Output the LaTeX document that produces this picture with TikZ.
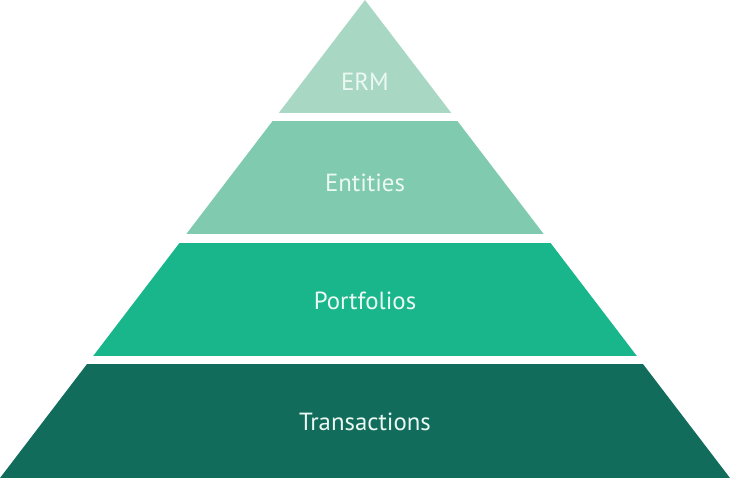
\documentclass[tikz,border=0pt]{standalone}
\usepackage{fontspec}
\setmainfont{PT Sans}
\usepackage{tikz}
\usetikzlibrary{calc}
\definecolor{ermgreen}{RGB}{168,216,196}
\definecolor{entgreen}{RGB}{128,203,176}
\definecolor{portgreen}{RGB}{25,182,140}
\definecolor{transgreen}{RGB}{17,108,92}
\definecolor{labeltext}{RGB}{236,248,243}
\tikzstyle{layer label} = [text=labeltext, font=\fontsize{18.6}{20}\selectfont,
    anchor=center, inner sep=0pt]

\begin{document}
\begin{tikzpicture}[x=0.75pt,y=-0.75pt]
  \useasboundingbox (0,0) rectangle (730,478);
  \coordinate (apex) at (365,0);
  \coordinate (bl) at (0,478);
  \coordinate (br) at (730,478);
  % pyramid cut into bands
  \begin{scope}
    \clip (apex) -- (bl) -- (br) -- cycle;
    \fill [ermgreen] (0,0) rectangle (730,112.5);
    \fill [entgreen] (0,120.5) rectangle (730,233.5);
    \fill [portgreen] (0,242.5) rectangle (730,356);
    \fill [transgreen] (0,364) rectangle (730,478);
  \end{scope}
  \node [layer label] (erm) at (365,82) {ERM};
  \node [layer label] (ent) at (365,183) {Entities};
  \node [layer label] (port) at (365,301) {Portfolios};
  \node [layer label] (trans) at (365,422) {Transactions};
\end{tikzpicture}
\end{document}
